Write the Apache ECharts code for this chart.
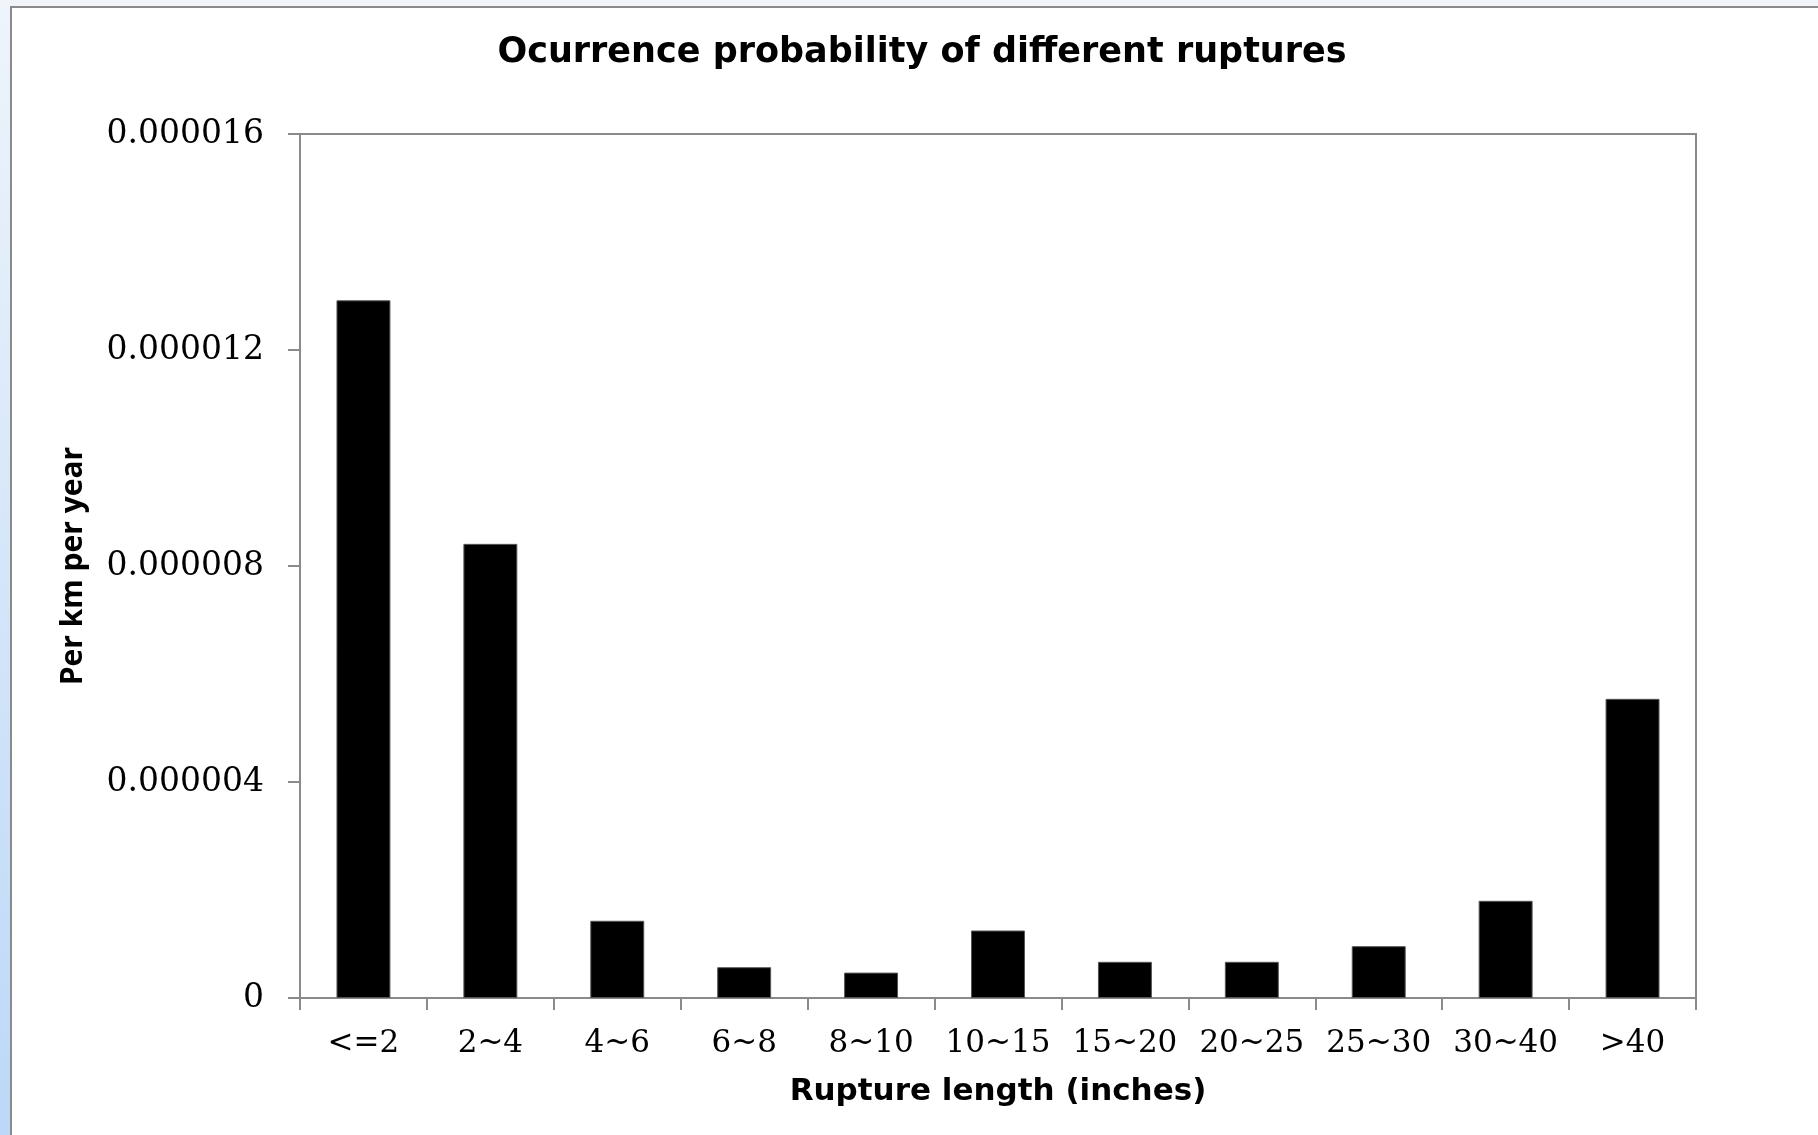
<!DOCTYPE html>
<html>
<head>
<meta charset="utf-8">
<script src="https://cdn.jsdelivr.net/npm/echarts@6/dist/echarts.min.js"></script>
<style>
html,body{margin:0;padding:0;background:#fff;}
#chart{width:1818px;height:1135px;}
</style>
</head>
<body>
<div id="chart"></div>
<script>
const categories = ['<=2','2~4','4~6','6~8','8~10','10~15','15~20','20~25','25~30','30~40','>40'];
const values = [12.92e-6, 8.41e-6, 1.43e-6, 0.57e-6, 0.47e-6, 1.25e-6, 0.67e-6, 0.67e-6, 0.96e-6, 1.80e-6, 5.54e-6];
const yTicks = [0, 0.000004, 0.000008, 0.000012, 0.000016];
const yLabels = ['0', '0.000004', '0.000008', '0.000012', '0.000016'];

const chart = echarts.init(document.getElementById('chart'), null, {renderer: 'canvas'});
const axisGrey = '#8a8a8a';
chart.setOption({
  backgroundColor: '#ffffff',
  animation: false,
  graphic: [
    {type: 'rect', shape: {x: 0, y: 0, width: 10, height: 1135}, silent: true,
     style: {fill: new echarts.graphic.LinearGradient(0, 0, 0, 1, [{offset: 0, color: '#eef4fb'}, {offset: 1, color: '#bcd8f8'}])}},
    {type: 'rect', shape: {x: 0, y: 0, width: 1818, height: 7}, silent: true, style: {fill: '#f1f5fa'}},
    {type: 'line', shape: {x1: 10, y1: 7, x2: 1818, y2: 7}, silent: true, style: {stroke: axisGrey, lineWidth: 2}},
    {type: 'line', shape: {x1: 11, y1: 7, x2: 11, y2: 1135}, silent: true, style: {stroke: axisGrey, lineWidth: 2}}
  ],
  title: {
    text: 'Ocurrence probability of different ruptures',
    left: 917, top: 30, textAlign: 'center',
    textStyle: {fontFamily: 'DejaVu Sans', fontWeight: 'bold', fontSize: 35, color: '#000'}
  },
  grid: {left: 300, right: 122, top: 134, bottom: 137, show: true, borderColor: axisGrey, borderWidth: 2, backgroundColor: 'transparent'},
  xAxis: {
    type: 'category',
    data: categories,
    name: 'Rupture length (inches)',
    nameLocation: 'middle',
    nameGap: 78,
    nameTextStyle: {fontFamily: 'DejaVu Sans', fontWeight: 'bold', fontSize: 31, color: '#000'},
    axisLine: {lineStyle: {color: axisGrey, width: 2}},
    axisTick: {show: true, length: 12, lineStyle: {color: axisGrey, width: 2}},
    axisLabel: {margin: 30, fontFamily: 'DejaVu Serif', fontSize: 31, color: '#000', interval: 0}
  },
  yAxis: {
    type: 'value',
    min: yTicks[0],
    max: yTicks[yTicks.length - 1],
    interval: yTicks[1] - yTicks[0],
    name: 'Per km per year',
    nameLocation: 'middle',
    nameGap: 212,
    nameTextStyle: {fontFamily: 'Open Sans', fontWeight: 'bold', fontSize: 30, color: '#000'},
    splitLine: {show: false},
    axisLine: {show: true, lineStyle: {color: axisGrey, width: 2}},
    axisTick: {show: true, length: 12, lineStyle: {color: axisGrey, width: 2}},
    axisLabel: {
      margin: 36, fontFamily: 'DejaVu Serif', fontSize: 33, color: '#000',
      formatter: function (v) {
        for (let i = 0; i < yTicks.length; i++) {
          if (Math.abs(v - yTicks[i]) < 1e-12) return yLabels[i];
        }
        return '';
      }
    }
  },
  series: [{
    type: 'bar',
    data: values,
    barWidth: '42.5%',
    itemStyle: {color: '#000000', borderColor: '#555', borderWidth: 1}
  }]
});
</script>
</body>
</html>
